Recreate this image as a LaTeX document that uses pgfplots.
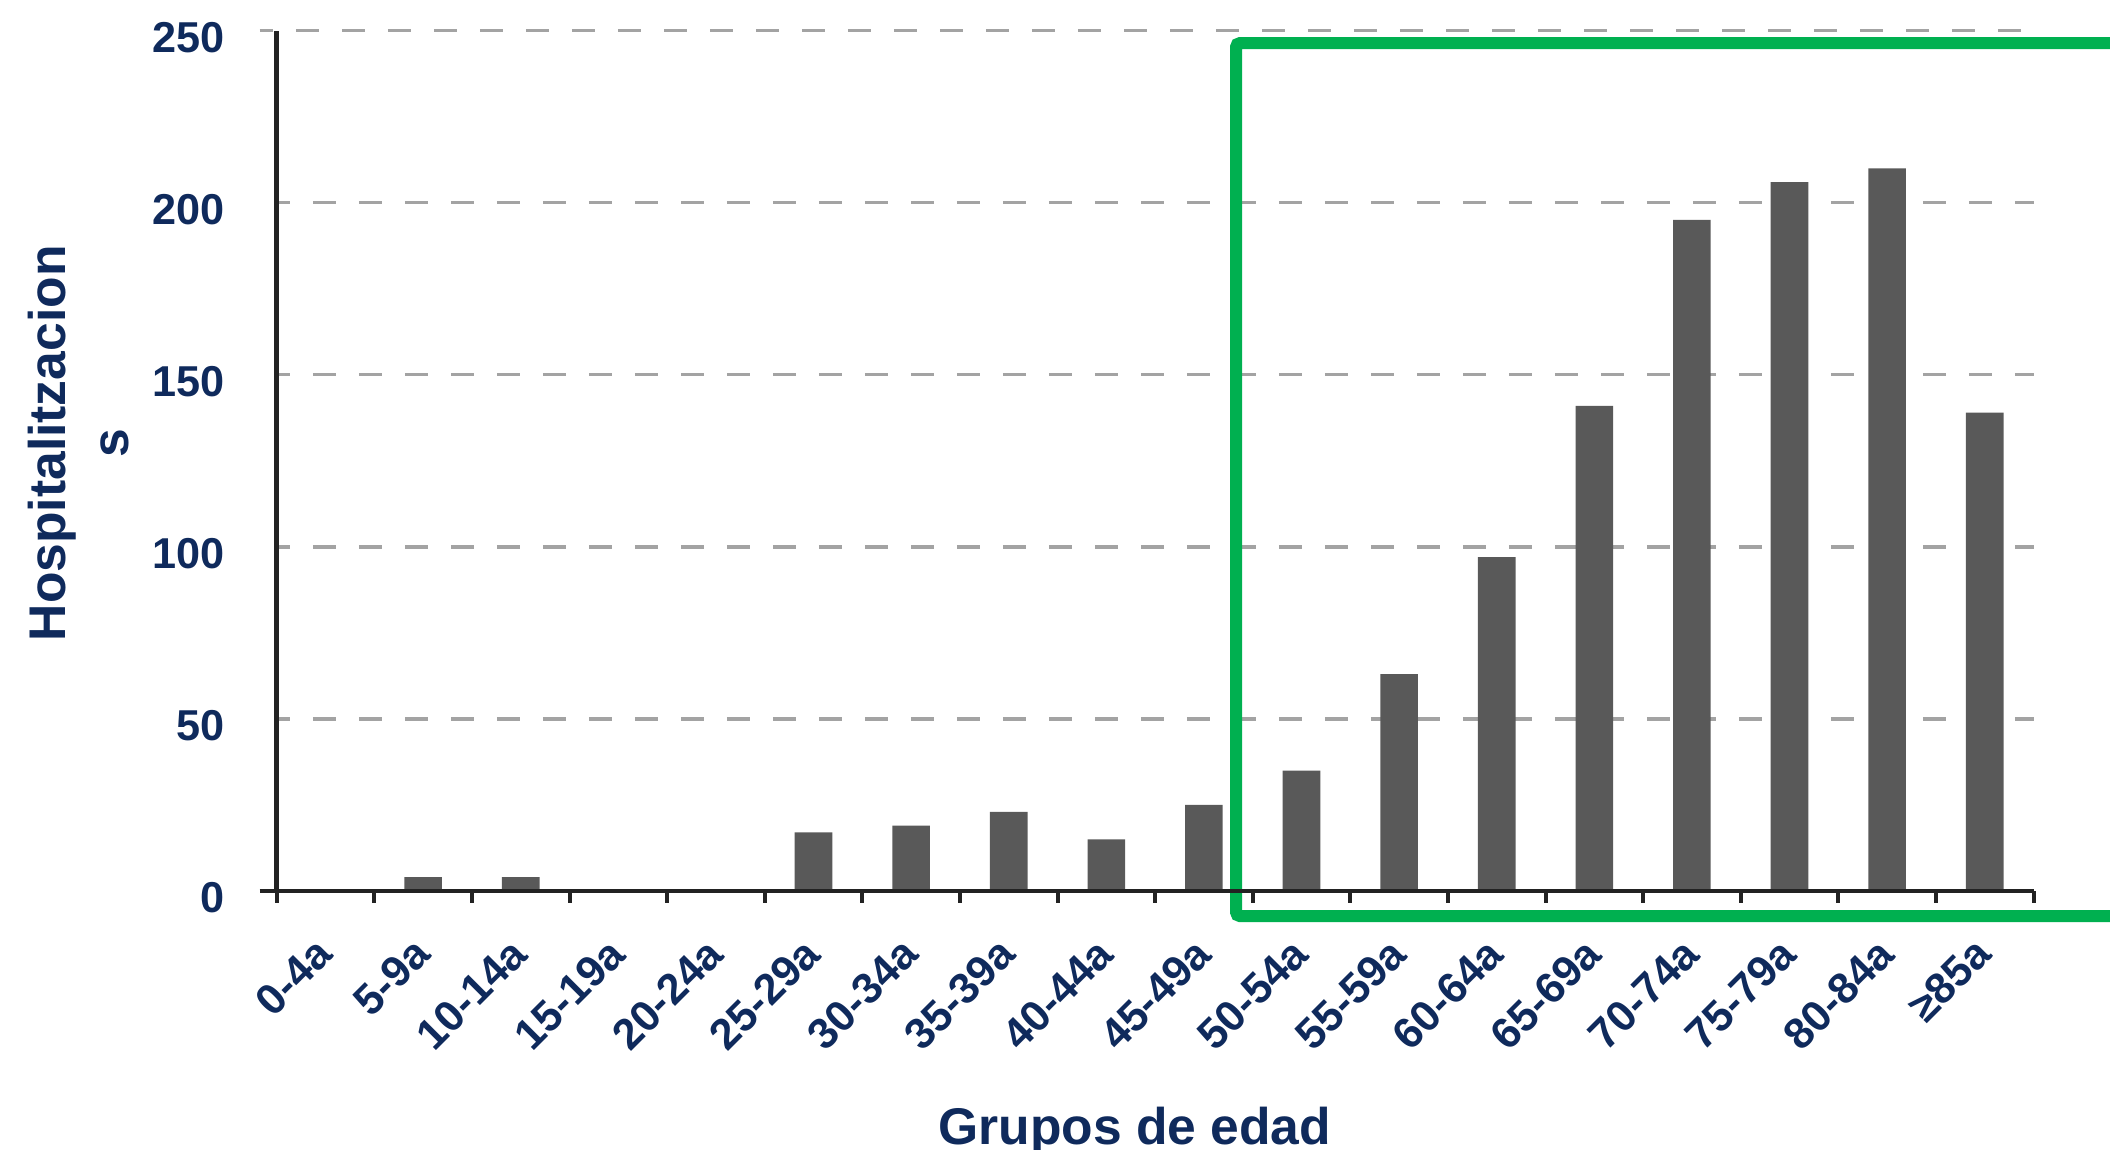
\documentclass[border=0pt]{standalone}
\usepackage{fontspec}
\setmainfont{Liberation Sans}
\usepackage{pgfplots}
\pgfplotsset{compat=1.18}
\definecolor{navy}{HTML}{0F2A5C}
\definecolor{barcol}{HTML}{595959}
\definecolor{gridcol}{HTML}{A3A3A3}
\definecolor{axiscol}{HTML}{222222}
\definecolor{boxgreen}{HTML}{00B050}
\pgfplotsset{
  layers/mine/.define layer set={axis background,axis grid,pre main,main,axis ticks,axis lines,axis tick labels,axis descriptions,axis foreground}{/pgfplots/layers/standard},
}
\begin{document}
\begin{tikzpicture}
\begin{axis}[
  set layers=mine,
  at={(138.35pt,129.5pt)}, anchor=south west,
  scale only axis, width=878.4pt, height=430.15pt,
  xmin=-0.5, xmax=17.5, ymin=0, ymax=250,
  axis x line*=bottom, axis y line*=left,
  x axis line style={line width=2.2pt, color=axiscol, shorten <=-8.5pt},
  y axis line style={line width=2.3pt, color=axiscol},
  ybar, bar width=18.8pt, bar shift=0pt,
  xtick={0,...,17},
  xticklabels={0-4a,5-9a,10-14a,15-19a,20-24a,25-29a,30-34a,35-39a,40-44a,45-49a,50-54a,55-59a,60-64a,65-69a,70-74a,75-79a,80-84a,≥85a},
  minor xtick={-0.5,0.5,...,17.5},
  ytick={0,50,...,250},
  tick align=outside,
  major tick length=0pt, minor tick length=5.8pt,
  tick style={line width=2pt, color=axiscol},
  ymajorgrids,
  major grid style={draw=gridcol, line width=1.65pt, dash pattern=on 11.4pt off 11.6pt, dash phase=4.9pt, shorten <=-8.5pt},
  /pgf/number format/assume math mode=true,
  ticklabel style={font=\fontsize{21.6}{26}\selectfont\bfseries, text=navy, inner sep=0pt},
  yticklabel style={anchor=east, xshift=-25.85pt, yshift=-3.5pt},
  xticklabel style={xshift=-0.5pt, yshift=-27.6pt, rotate=45, anchor=east},
  xlabel={Grupos de edad},
  ylabel={Hospitalitzacion\\s},
  label style={font=\fontsize{25.8}{31.7}\selectfont\bfseries, text=navy},
  xlabel style={at={(axis description cs:0.4884,-0.2941)}, anchor=base},
  ylabel style={at={(axis description cs:-0.1129,0.5204)}, anchor=center, align=center},
  clip=false,
]
\addplot[fill=barcol, draw=none] coordinates {
  (0,0) (1,4) (2,4) (3,0) (4,0) (5,17) (6,19) (7,23) (8,15) (9,25)
  (10,35) (11,63) (12,97) (13,141) (14,195) (15,206) (16,210) (17,139)
};
\draw[boxgreen, line width=6pt, rounded corners=2pt]
  (axis cs:18.8,246.4) -- (axis cs:9.329,246.4) -- (axis cs:9.329,-7.3) -- (axis cs:18.8,-7.3);
\end{axis}
\pgfresetboundingbox
\useasboundingbox (0,0) rectangle (1055pt,575pt);
\end{tikzpicture}
\end{document}
